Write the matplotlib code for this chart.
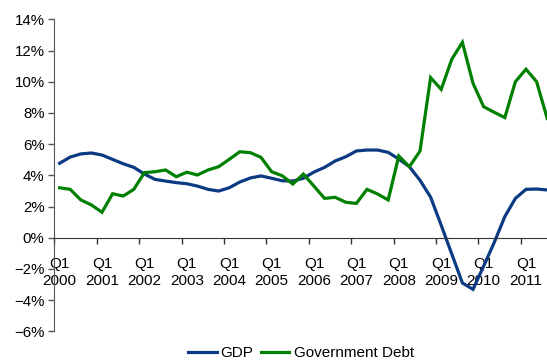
import numpy as np
import matplotlib
matplotlib.use("Agg")
import matplotlib.pyplot as plt
from matplotlib.ticker import FixedLocator, PercentFormatter

plt.rcParams['font.family'] = ['Liberation Sans', 'DejaVu Sans']

# Quarterly growth rates, Q1 2000 .. Q3 2011 (%)
years = list(range(2000, 2012))
gdp = [4.77, 5.17, 5.37, 5.43, 5.30, 5.02, 4.74, 4.51, 4.08, 3.74, 3.63, 3.53,
       3.46, 3.31, 3.10, 2.99, 3.20, 3.57, 3.83, 3.96, 3.81, 3.65, 3.63, 3.81,
       4.21, 4.51, 4.92, 5.19, 5.56, 5.62, 5.62, 5.47, 5.04, 4.55, 3.68, 2.60,
       0.80, -1.05, -2.90, -3.31, -1.83, -0.31, 1.35, 2.52, 3.10, 3.12, 3.06]
debt = [3.20, 3.10, 2.42, 2.10, 1.63, 2.82, 2.67, 3.10, 4.17, 4.23, 4.34, 3.91,
        4.20, 4.02, 4.34, 4.55, 5.02, 5.51, 5.45, 5.15, 4.23, 3.97, 3.44, 4.08,
        3.30, 2.52, 2.59, 2.27, 2.20, 3.10, 2.80, 2.42, 5.24, 4.55, 5.55, 10.26,
        9.51, 11.44, 12.52, 9.90, 8.40, 8.04, 7.70, 10.00, 10.80, 10.00, 7.65]

fig = plt.figure(figsize=(5.47, 3.6), dpi=100)
ax = fig.add_axes([54.3 / 547, 1 - 331.3 / 360, (552.5 - 54.3) / 547, (331.3 - 19.3) / 360])

x = np.arange(len(gdp))
ax.plot(x, gdp, color='#0b3a82', lw=2.3, label='GDP', solid_joinstyle='miter')
ax.plot(x, debt, color='#008000', lw=2.3, label='Government Debt', solid_joinstyle='miter')

ax.set_xlim(-0.5, len(gdp) - 0.5)
ax.set_ylim(-6, 14)
ax.set_yticks(np.arange(-6, 15, 2))
ax.yaxis.set_major_formatter(PercentFormatter(decimals=0))
ax.tick_params(axis='y', direction='out', length=4, width=1, labelsize=10.8, pad=3,
               colors='#555555', labelcolor='black')

# x axis sits at zero; ticks between categories, labels under each Q1
ax.spines['bottom'].set_position(('data', 0))
ax.spines['top'].set_visible(False)
ax.spines['right'].set_visible(False)
ax.spines['left'].set_color('#555555')
ax.spines['bottom'].set_color('#333333')
ax.xaxis.set_major_locator(FixedLocator(np.arange(-0.5, len(gdp), 4)))
ax.xaxis.set_major_formatter(plt.NullFormatter())
ax.xaxis.set_minor_locator(FixedLocator(np.arange(0, len(gdp), 4)))
ax.set_xticklabels([f"Q1\n{y}" for y in years], minor=True, linespacing=1.3)
ax.tick_params(axis='x', which='major', direction='out', length=4, width=1, colors='#333333')
ax.tick_params(axis='x', which='minor', length=0, labelsize=11, pad=14, labelcolor='black')

fig.legend(loc='center', bbox_to_anchor=(301 / 547, 1 - 353 / 360), ncol=2, frameon=False,
           fontsize=11, handlelength=1.85, handletextpad=0.27, columnspacing=0.5)

fig.savefig('out.png', dpi=100)
